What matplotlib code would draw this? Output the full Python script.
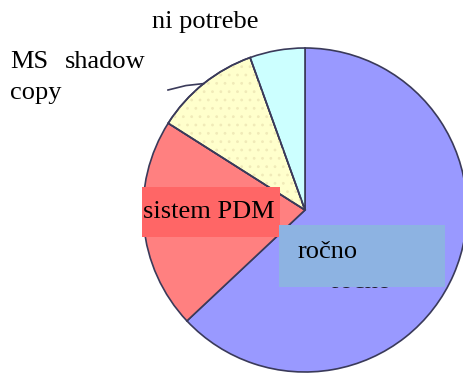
import numpy as np
import matplotlib
matplotlib.use("Agg")
import matplotlib.pyplot as plt
from matplotlib.patches import Wedge, Rectangle

# Data (shares, clockwise from 12 o'clock)
labels = ["ročno", "sistem PDM", "MS shadow copy", "ni potrebe"]
shares = [63.0, 21.0, 10.5, 5.5]
colors = ["#9999FF", "#FF8080", "#FFFFCC", "#CCFFFF"]

W, H = 464, 374
plt.rcParams['font.family'] = ['Liberation Serif', 'DejaVu Serif']
plt.rcParams['hatch.linewidth'] = 0.8

fig = plt.figure(figsize=(W / 100, H / 100), dpi=100)
ax = fig.add_axes([0, 0, 1, 1])

cx, cy, r = 305, 164, 162
edge = "#3a3a5a"
wedges, _ = ax.pie(shares, colors=colors, startangle=90, counterclock=False,
                   center=(cx, cy), radius=r,
                   wedgeprops=dict(edgecolor=edge, linewidth=1.2))
ax.set_xlim(0, W)
ax.set_ylim(0, H)
ax.set_aspect('auto')
ax.axis('off')

# faint dotted texture on the yellow slice, then its outline again on top
yw = wedges[2]
ax.add_patch(Wedge((cx, cy), r, yw.theta1, yw.theta2, facecolor='none',
                   edgecolor='#F0EAB8', linewidth=0, hatch='..', zorder=1.5))
ax.add_patch(Wedge((cx, cy), r, yw.theta1, yw.theta2, facecolor='none',
                   edgecolor=edge, linewidth=1.2, zorder=1.6))

# leader line for "MS shadow copy"
mid = np.deg2rad((yw.theta1 + yw.theta2) / 2)
ex, ey = cx + r * np.cos(mid), cy + r * np.sin(mid)
ax.plot([168, (168 + ex) / 2, ex], [284, ey - 2, ey], color=edge, lw=1.2, zorder=3)

fs = 19
ax.text(152, 352, "ni potrebe", fontsize=fs, ha='left', va='center')
ax.text(10, 312, "MS", fontsize=fs, ha='left', va='center')
ax.text(65, 312, "shadow", fontsize=fs, ha='left', va='center')
ax.text(10, 281, "copy", fontsize=fs, ha='left', va='center')

# ghost label partly hidden under the blue box
ax.text(362, 92, "ročno", fontsize=fs, ha='center', va='center', color='#222233', zorder=2)

# label boxes
ax.add_patch(Rectangle((142, 137), 138, 50, facecolor="#FF6666", edgecolor='none', zorder=4))
ax.text(143, 162, "sistem PDM", fontsize=fs, ha='left', va='center', zorder=5)
ax.add_patch(Rectangle((279, 87), 166, 62, facecolor="#8DB3E2", edgecolor='none', zorder=4))
ax.text(298, 122, "ročno", fontsize=fs, ha='left', va='center', zorder=5)

fig.savefig("out.png", dpi=100)
